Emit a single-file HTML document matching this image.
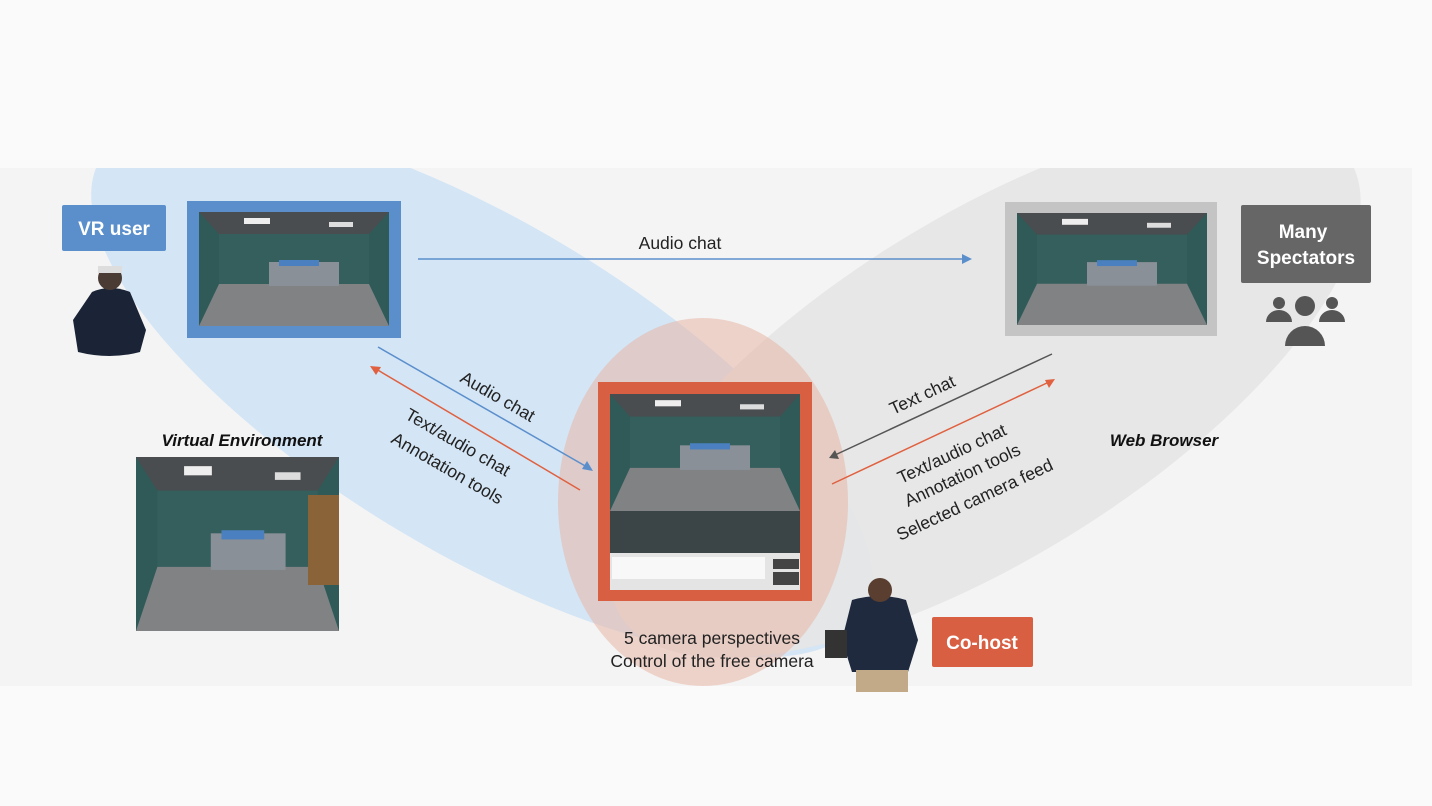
<!DOCTYPE html>
<html><head><meta charset="utf-8"><style>
html,body{margin:0;padding:0;background:#fafafa;}
svg{display:block;font-family:"Liberation Sans",sans-serif;}
</style></head><body>
<svg width="1432" height="806" viewBox="0 0 1432 806" xmlns="http://www.w3.org/2000/svg">
<defs>
<clipPath id="slide"><rect x="0" y="168" width="1412" height="518"/></clipPath>
<symbol id="room" viewBox="0 0 190 114" preserveAspectRatio="none">
<rect width="190" height="114" fill="#2f5a58"/>
<polygon points="0,0 190,0 170,22 20,22" fill="#4a4d4f"/>
<polygon points="20,22 170,22 170,72 20,72" fill="#355f5d"/>
<polygon points="0,114 190,114 170,72 20,72" fill="#808284"/>
<rect x="45" y="6" width="26" height="6" fill="#eee"/>
<rect x="130" y="10" width="24" height="5" fill="#ddd"/>
<rect x="70" y="50" width="70" height="24" fill="#8a9098"/>
<rect x="80" y="48" width="40" height="6" fill="#4a80c0"/>
</symbol>
</defs>
<rect x="0" y="168" width="1412" height="518" fill="#f4f4f4"/>
<g clip-path="url(#slide)">
<ellipse cx="482" cy="388" rx="445" ry="165" transform="rotate(31 482 388)" fill="#d4e5f5"/>
<ellipse cx="985" cy="388" rx="430" ry="170" transform="rotate(-32 985 388)" fill="#e6e6e6" opacity="0.9"/>
<ellipse cx="703" cy="502" rx="145" ry="184" fill="#e7b7a6" opacity="0.55"/>
</g>
<rect x="187" y="201" width="214" height="137" fill="#5b8fcc"/>
<use href="#room" x="199" y="212" width="190" height="114"/>
<rect x="1005" y="202" width="212" height="134" fill="#c4c4c4"/>
<use href="#room" x="1017" y="213" width="190" height="112"/>
<rect x="598" y="382" width="214" height="219" fill="#d95f43"/>
<use href="#room" x="610" y="394" width="190" height="117"/>
<rect x="610" y="511" width="190" height="42" fill="#3b4446"/>
<rect x="610" y="553" width="190" height="37" fill="#e4e4e4"/>
<rect x="612" y="557" width="153" height="22" fill="#f8f8f8"/>
<rect x="773" y="559" width="26" height="10" fill="#444"/>
<rect x="773" y="572" width="26" height="13" fill="#444"/>
<use href="#room" x="136" y="457" width="203" height="174"/>
<rect x="308" y="495" width="31" height="90" fill="#8a6438"/>
<rect x="62" y="205" width="104" height="46" rx="2" fill="#5b8fcc"/>
<text x="114" y="235" text-anchor="middle" font-size="19" font-weight="bold" fill="#fff">VR user</text>
<rect x="1241" y="205" width="130" height="78" rx="2" fill="#666"/>
<text x="1303" y="238" text-anchor="middle" font-size="19" font-weight="bold" fill="#fff">Many</text>
<text x="1306" y="264" text-anchor="middle" font-size="19" font-weight="bold" fill="#fff">Spectators</text>
<rect x="932" y="617" width="101" height="50" rx="2" fill="#d95f43"/>
<text x="982" y="649" text-anchor="middle" font-size="19" font-weight="bold" fill="#fff">Co-host</text>
<g fill="#555">
<circle cx="1305" cy="306" r="10"/><path d="M1285 346 a20 20 0 0 1 40 0z"/>
<circle cx="1279" cy="303" r="6"/><path d="M1266 322 a13 12 0 0 1 26 0z"/>
<circle cx="1332" cy="303" r="6"/><path d="M1319 322 a13 12 0 0 1 26 0z"/>
</g>
<path d="M92 292 Q110 284 130 292 L146 330 L140 352 Q110 360 78 352 L73 320 Z" fill="#1b2436"/>
<circle cx="110" cy="278" r="12" fill="#4a3c34"/>
<rect x="98" y="266" width="24" height="7" fill="#ddd"/>
<path d="M852 600 Q880 592 906 600 L918 640 L908 672 L852 672 L842 640 Z" fill="#1f2a3e"/>
<circle cx="880" cy="590" r="12" fill="#5a3e30"/>
<rect x="856" y="670" width="52" height="22" fill="#c2aa88"/>
<rect x="825" y="630" width="22" height="28" fill="#333"/>
<g stroke-width="1.5" fill="none">
<line x1="418" y1="259" x2="966" y2="259" stroke="#5b8fcc"/>
<line x1="378" y1="347" x2="587" y2="467" stroke="#5b8fcc"/>
<line x1="580" y1="490" x2="376" y2="369" stroke="#e0603f"/>
<line x1="1052" y1="354" x2="835" y2="455" stroke="#555"/>
<line x1="832" y1="484" x2="1049" y2="382" stroke="#e0603f"/>
</g>
<polygon points="972,259 962,254 962,264" fill="#5b8fcc"/>
<polygon points="593,471 582,469 587,461" fill="#5b8fcc"/>
<polygon points="370,366 381,367 376,375" fill="#e0603f"/>
<polygon points="829,458 835,450 839,459" fill="#555"/>
<polygon points="1055,379 1045,380 1049,388" fill="#e0603f"/>
<g font-size="17.5" fill="#222">
<text x="680" y="249" text-anchor="middle">Audio chat</text>
<text transform="translate(459,381) rotate(30)">Audio chat</text>
<text transform="translate(404,418) rotate(30)">Text/audio chat</text>
<text transform="translate(390,442) rotate(30)">Annotation tools</text>
<text transform="translate(893,415) rotate(-25)">Text chat</text>
<text transform="translate(901,484) rotate(-25)">Text/audio chat</text>
<text transform="translate(908,507) rotate(-25)">Annotation tools</text>
<text transform="translate(900,541) rotate(-25)">Selected camera feed</text>
<text x="712" y="644" text-anchor="middle">5 camera perspectives</text>
<text x="712" y="667" text-anchor="middle">Control of the free camera</text>
</g>
<text x="242" y="446" text-anchor="middle" font-size="17" font-weight="bold" font-style="italic" fill="#111">Virtual Environment</text>
<text x="1164" y="446" text-anchor="middle" font-size="17" font-weight="bold" font-style="italic" fill="#111">Web Browser</text>
</svg>
</body></html>
